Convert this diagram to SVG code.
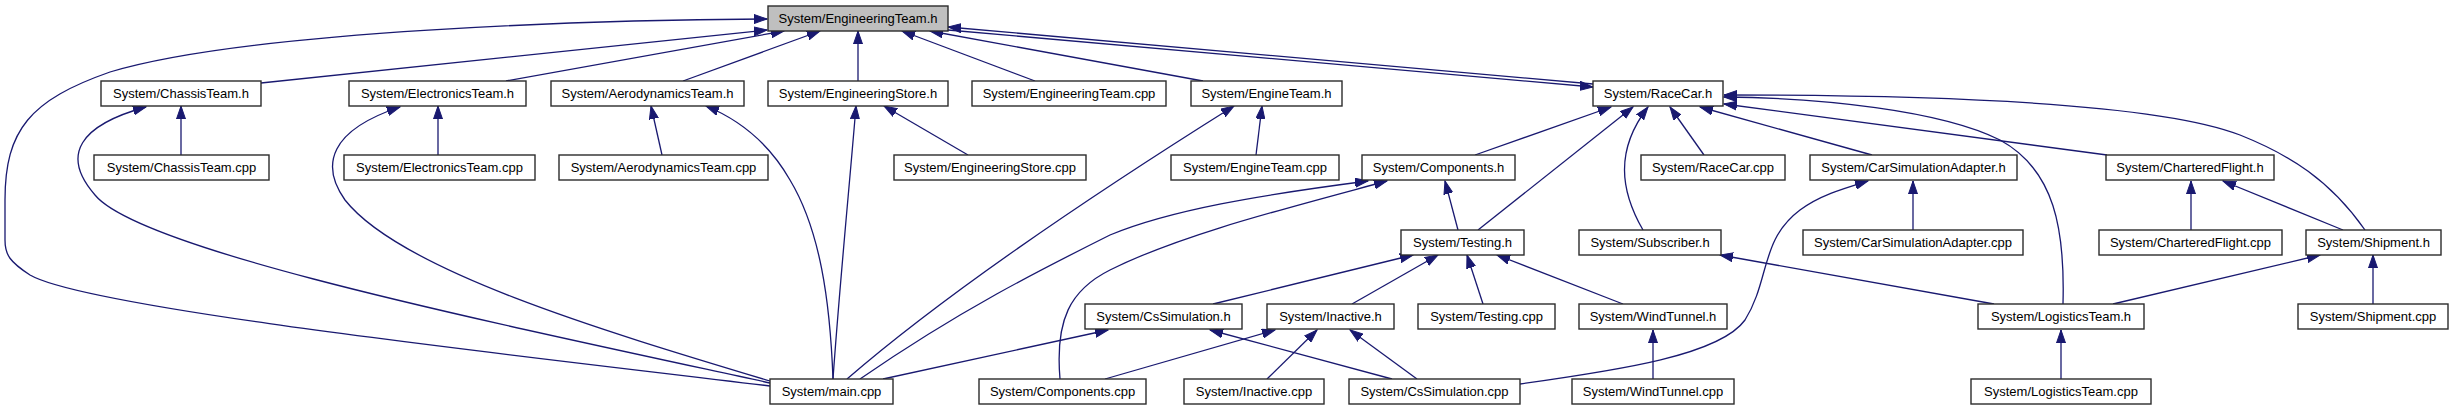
<svg xmlns="http://www.w3.org/2000/svg" width="2453" height="411" viewBox="0 0 2453 411">
<style>
.n rect{fill:#fff;stroke:#2b2b2b;stroke-width:1.4}
.n.root rect{fill:#bfbfbf}
.n text{font-family:"Liberation Sans",Arial,sans-serif;font-size:13px;fill:#000;text-anchor:middle}
#edges path{fill:none;stroke:#191970;stroke-width:1.3;marker-end:url(#a)}
</style>
<defs>
<marker id="a" markerWidth="14" markerHeight="10" refX="13" refY="5" orient="auto" markerUnits="userSpaceOnUse">
<path d="M0,0.5 L13,5 L0,9.5 z" fill="#191970" stroke="#191970" stroke-width="1"/>
</marker>
</defs>
<rect width="2453" height="411" fill="#fff"/>
<g id="edges">
<path d="M770,386 C560,360 90,310 30,275 C10,262 5,255 5,240 L5,200 C5,130 30,100 110,72 C250,30 600,20 767,19"/>
<path d="M261,83 L767,30"/>
<path d="M506,81 L784,31"/>
<path d="M683,81 L820,31"/>
<path d="M858,81 L858,31"/>
<path d="M1035,81 L902,31"/>
<path d="M1203,81 L930,31"/>
<path d="M1593,84 L948,27"/>
<path d="M948,30 L1593,87"/>
<path d="M181,155 L181,106"/>
<path d="M770,383 C480,320 140,250 95,195 C60,155 80,125 146,107"/>
<path d="M438,155 L438,106"/>
<path d="M770,381 C600,330 400,270 345,200 C320,165 330,130 400,107"/>
<path d="M662,155 L651,106"/>
<path d="M833,379 C830,300 820,230 790,180 C770,145 740,120 706,106"/>
<path d="M968,155 L884,106"/>
<path d="M833,379 C840,280 850,180 856,106"/>
<path d="M1256,155 L1262,106"/>
<path d="M847,379 C950,290 1100,190 1234,106"/>
<path d="M1475,155 L1611,107"/>
<path d="M1478,230 L1633,107"/>
<path d="M1643,230 C1620,190 1615,150 1648,107"/>
<path d="M1704,155 L1670,107"/>
<path d="M1872,155 L1700,107"/>
<path d="M2107,155 L1724,104"/>
<path d="M2365,230 C2330,180 2290,155 2240,135 C2150,100 1900,95 1724,95"/>
<path d="M2063,304 C2065,230 2055,170 2000,140 C1940,110 1820,98 1724,97"/>
<path d="M1458,230 L1445,181"/>
<path d="M860,379 C960,310 1040,270 1110,235 C1170,210 1260,195 1368,181"/>
<path d="M1060,379 C1055,320 1070,290 1110,270 C1180,235 1280,210 1387,181"/>
<path d="M1213,304 L1413,255"/>
<path d="M1352,304 L1438,255"/>
<path d="M1483,304 L1467,255"/>
<path d="M1623,304 L1497,255"/>
<path d="M883,379 L1108,330"/>
<path d="M1392,379 L1210,330"/>
<path d="M1105,379 L1275,330"/>
<path d="M1267,379 L1317,330"/>
<path d="M1417,379 L1350,330"/>
<path d="M1913,230 L1913,181"/>
<path d="M1520,384 C1620,370 1720,355 1745,320 C1770,280 1760,240 1800,210 C1820,195 1845,188 1868,181"/>
<path d="M2191,230 L2191,181"/>
<path d="M2343,230 L2223,181"/>
<path d="M1994,304 L1720,255"/>
<path d="M2113,304 L2320,255"/>
<path d="M2373,304 L2373,255"/>
<path d="M1653,379 L1653,330"/>
<path d="M2061,379 L2061,330"/>
</g>
<g id="n_EngineeringTeam_h" class="n root"><rect x="768" y="6" width="180" height="25"/><text x="858" y="23">System/EngineeringTeam.h</text></g>
<g id="n_ChassisTeam_h" class="n"><rect x="101" y="81" width="160" height="25"/><text x="181" y="98">System/ChassisTeam.h</text></g>
<g id="n_ElectronicsTeam_h" class="n"><rect x="349" y="81" width="177" height="25"/><text x="437.5" y="98">System/ElectronicsTeam.h</text></g>
<g id="n_AerodynamicsTeam_h" class="n"><rect x="551" y="81" width="193" height="25"/><text x="647.5" y="98">System/AerodynamicsTeam.h</text></g>
<g id="n_EngineeringStore_h" class="n"><rect x="768" y="81" width="180" height="25"/><text x="858" y="98">System/EngineeringStore.h</text></g>
<g id="n_EngineeringTeam_cpp" class="n"><rect x="972" y="81" width="194" height="25"/><text x="1069" y="98">System/EngineeringTeam.cpp</text></g>
<g id="n_EngineTeam_h" class="n"><rect x="1191" y="81" width="151" height="25"/><text x="1266.5" y="98">System/EngineTeam.h</text></g>
<g id="n_RaceCar_h" class="n"><rect x="1593" y="81" width="130" height="25"/><text x="1658" y="98">System/RaceCar.h</text></g>
<g id="n_ChassisTeam_cpp" class="n"><rect x="94" y="155" width="175" height="25"/><text x="181.5" y="172">System/ChassisTeam.cpp</text></g>
<g id="n_ElectronicsTeam_cpp" class="n"><rect x="344" y="155" width="191" height="25"/><text x="439.5" y="172">System/ElectronicsTeam.cpp</text></g>
<g id="n_AerodynamicsTeam_cpp" class="n"><rect x="559" y="155" width="209" height="25"/><text x="663.5" y="172">System/AerodynamicsTeam.cpp</text></g>
<g id="n_EngineeringStore_cpp" class="n"><rect x="894" y="155" width="192" height="25"/><text x="990" y="172">System/EngineeringStore.cpp</text></g>
<g id="n_EngineTeam_cpp" class="n"><rect x="1171" y="155" width="168" height="25"/><text x="1255" y="172">System/EngineTeam.cpp</text></g>
<g id="n_Components_h" class="n"><rect x="1362" y="155" width="153" height="25"/><text x="1438.5" y="172">System/Components.h</text></g>
<g id="n_RaceCar_cpp" class="n"><rect x="1641" y="155" width="144" height="25"/><text x="1713" y="172">System/RaceCar.cpp</text></g>
<g id="n_CarSimulationAdapter_h" class="n"><rect x="1810" y="155" width="207" height="25"/><text x="1913.5" y="172">System/CarSimulationAdapter.h</text></g>
<g id="n_CharteredFlight_h" class="n"><rect x="2106" y="155" width="168" height="25"/><text x="2190" y="172">System/CharteredFlight.h</text></g>
<g id="n_Testing_h" class="n"><rect x="1401" y="230" width="123" height="25"/><text x="1462.5" y="247">System/Testing.h</text></g>
<g id="n_Subscriber_h" class="n"><rect x="1579" y="230" width="142" height="25"/><text x="1650" y="247">System/Subscriber.h</text></g>
<g id="n_CarSimulationAdapter_cpp" class="n"><rect x="1803" y="230" width="220" height="25"/><text x="1913" y="247">System/CarSimulationAdapter.cpp</text></g>
<g id="n_CharteredFlight_cpp" class="n"><rect x="2099" y="230" width="183" height="25"/><text x="2190.5" y="247">System/CharteredFlight.cpp</text></g>
<g id="n_Shipment_h" class="n"><rect x="2306" y="230" width="135" height="25"/><text x="2373.5" y="247">System/Shipment.h</text></g>
<g id="n_CsSimulation_h" class="n"><rect x="1085" y="304" width="157" height="25"/><text x="1163.5" y="321">System/CsSimulation.h</text></g>
<g id="n_Inactive_h" class="n"><rect x="1267" y="304" width="127" height="25"/><text x="1330.5" y="321">System/Inactive.h</text></g>
<g id="n_Testing_cpp" class="n"><rect x="1418" y="304" width="137" height="25"/><text x="1486.5" y="321">System/Testing.cpp</text></g>
<g id="n_WindTunnel_h" class="n"><rect x="1579" y="304" width="148" height="25"/><text x="1653" y="321">System/WindTunnel.h</text></g>
<g id="n_LogisticsTeam_h" class="n"><rect x="1978" y="304" width="166" height="25"/><text x="2061" y="321">System/LogisticsTeam.h</text></g>
<g id="n_Shipment_cpp" class="n"><rect x="2298" y="304" width="150" height="25"/><text x="2373" y="321">System/Shipment.cpp</text></g>
<g id="n_main_cpp" class="n"><rect x="770" y="379" width="123" height="25"/><text x="831.5" y="396">System/main.cpp</text></g>
<g id="n_Components_cpp" class="n"><rect x="979" y="379" width="167" height="25"/><text x="1062.5" y="396">System/Components.cpp</text></g>
<g id="n_Inactive_cpp" class="n"><rect x="1184" y="379" width="140" height="25"/><text x="1254" y="396">System/Inactive.cpp</text></g>
<g id="n_CsSimulation_cpp" class="n"><rect x="1349" y="379" width="171" height="25"/><text x="1434.5" y="396">System/CsSimulation.cpp</text></g>
<g id="n_WindTunnel_cpp" class="n"><rect x="1572" y="379" width="162" height="25"/><text x="1653" y="396">System/WindTunnel.cpp</text></g>
<g id="n_LogisticsTeam_cpp" class="n"><rect x="1971" y="379" width="180" height="25"/><text x="2061" y="396">System/LogisticsTeam.cpp</text></g>
</svg>
